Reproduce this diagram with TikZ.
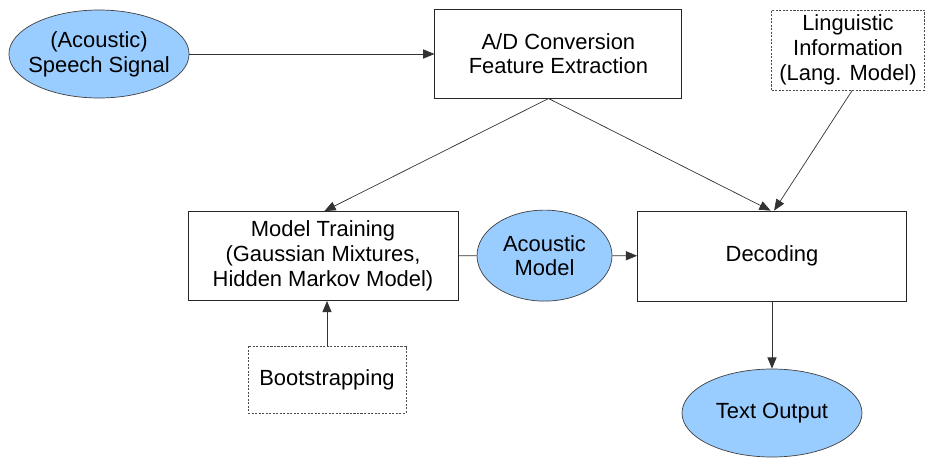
\documentclass[tikz,border=0pt]{standalone}
\usepackage{fontspec}
\setmainfont{Liberation Sans}
\usepackage{xcolor}
\usepackage{tikz}
\usetikzlibrary{arrows.meta,positioning,shapes.geometric,calc}

\definecolor{blobblue}{HTML}{99CCFF}

\begin{document}
\begin{tikzpicture}[
    every node/.style={font=\fontsize{15.6}{17.6}\selectfont, align=center},
    stagebox/.style={rectangle, draw=black!85, line width=0.6pt, inner sep=0pt},
    sourcebox/.style={rectangle, draw=black!70, line width=0.5pt, dash pattern=on 1.5pt off 1pt, inner sep=0pt},
    blob/.style={ellipse, draw=black!75, line width=0.5pt, fill=blobblue, inner sep=0pt, inner xsep=-5pt},
    flow/.style={draw=black!80, line width=0.5pt, -{Triangle[length=8pt,width=6.5pt]}}
]
\useasboundingbox (0,0) rectangle (23.125,-11.425);

\node[blob, minimum width=4.5cm, minimum height=2.2cm] (sig) at (2.475,-1.35) {(Acoustic)\\Speech Signal};
\node[stagebox, minimum width=6.175cm, minimum height=2.225cm] (adc) at (13.96,-1.34) {A/D Conversion\\Feature Extraction};
\node[sourcebox, minimum width=3.825cm, minimum height=2.0cm] (ling) at (21.2,-1.25) {Linguistic\\Information\\(Lang. Model)};

\node[stagebox, minimum width=6.75cm, minimum height=2.225cm] (train) at (8.075,-6.4) {Model Training\\(Gaussian Mixtures,\\Hidden Markov Model)};
\node[blob, minimum width=3.375cm, minimum height=2.275cm] (am) at (13.613,-6.39) {Acoustic\\Model};
\node[stagebox, minimum width=6.725cm, minimum height=2.25cm] (dec) at (19.3,-6.4) {Decoding};

\node[sourcebox, minimum width=3.95cm, minimum height=1.675cm] (boot) at (8.175,-9.488) {Bootstrapping};
\node[blob, minimum width=4.5cm, minimum height=2.2cm] (out) at (19.3,-10.325) {Text Output};

\draw[flow] (sig.east) -- (sig.east -| adc.west);
\draw[flow] ([xshift=-7pt]adc.south) -- ([xshift=1pt]train.north);
\draw[flow] ([xshift=-7pt]adc.south) -- ([xshift=-1pt]dec.north);
\draw[flow] ([xshift=3pt]ling.south) -- ([xshift=1.5pt]dec.north);
\draw[draw=black!80, line width=0.5pt] (train) -- (am);
\draw[flow] (am) -- (dec);
\draw[flow] (boot.north) -- (boot.north |- train.south);
\draw[flow] (dec) -- (out);
\end{tikzpicture}
\end{document}
